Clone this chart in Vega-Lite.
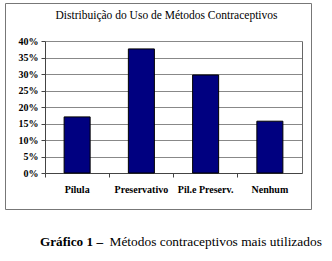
{
  "$schema": "https://vega.github.io/schema/vega-lite/v6.json",
  "autosize": "none",
  "padding": {"left": 5, "top": 3, "right": 21, "bottom": 52},
  "width": 306,
  "height": 206,
  "background": "white",
  "config": {
    "view": {"stroke": "#777777", "strokeWidth": 1},
    "font": "Liberation Serif"
  },
  "data": {
    "values": [
      {"metodo": "Pílula", "pct": 0.17},
      {"metodo": "Preservativo", "pct": 0.376},
      {"metodo": "Pil.e Preserv.", "pct": 0.297},
      {"metodo": "Nenhum", "pct": 0.157}
    ]
  },
  "resolve": {"axis": {"x": "independent", "y": "independent"}},
  "layer": [
    {
      "mark": {"type": "bar", "fill": "#000080", "stroke": "black", "strokeWidth": 1, "width": {"band": 0.405}},
      "encoding": {
        "x": {
          "field": "metodo", "type": "nominal", "sort": null,
          "scale": {"range": [40, 297], "paddingInner": 0, "paddingOuter": 0},
          "axis": {
            "orient": "bottom", "offset": -36, "labelAngle": 0,
            "labelFont": "Liberation Serif", "labelFontSize": 10, "labelFontWeight": "bold", "labelColor": "black",
            "labelBaseline": "top", "labelPadding": 11,
            "ticks": false, "domainColor": "#444444", "grid": false,
            "title": "Gráfico 1 –", "titleFont": "Liberation Serif", "titleFontSize": 13.2, "titleFontWeight": "bold", "titleColor": "black",
            "titleAlign": "left", "titleBaseline": "alphabetic", "titleX": 34.5, "titleY": 72.5, "titleAngle": 0
          }
        },
        "y": {
          "field": "pct", "type": "quantitative",
          "scale": {"domain": [0, 0.4], "range": [170, 38], "nice": false},
          "axis": {
            "orient": "left", "offset": -40, "values": [0, 0.05, 0.1, 0.15, 0.2, 0.25, 0.3, 0.35, 0.4], "format": ".0%",
            "labelFont": "Liberation Serif", "labelFontSize": 10, "labelFontWeight": "bold", "labelColor": "black",
            "labelPadding": 3, "tickSize": 4, "tickColor": "#444444", "domainColor": "#444444",
            "grid": true, "gridColor": "#888888", "gridWidth": 1, "title": null
          }
        }
      }
    },
    {
      "mark": {"type": "bar", "opacity": 0, "width": {"band": 0.405}},
      "encoding": {
        "x": {
          "field": "metodo", "type": "nominal", "sort": null,
          "scale": {"range": [40, 297], "paddingInner": 0, "paddingOuter": 0},
          "axis": {
            "orient": "bottom", "offset": -36, "labels": false, "bandPosition": 0,
            "ticks": true, "tickSize": 4, "tickColor": "#444444", "domain": false, "grid": false,
            "title": "Métodos contraceptivos mais utilizados", "titleFont": "Liberation Serif", "titleFontSize": 13.4, "titleFontWeight": "normal", "titleColor": "black",
            "titleAlign": "left", "titleBaseline": "alphabetic", "titleX": 104, "titleY": 72.5, "titleAngle": 0
          }
        },
        "y": {
          "field": "pct", "type": "quantitative",
          "scale": {"domain": [0, 0.4], "range": [170, 38], "nice": false},
          "axis": {
            "orient": "right", "offset": -9, "labels": false, "ticks": false, "grid": false,
            "domainColor": "#666666", "title": null
          }
        }
      }
    },
    {
      "mark": {"type": "bar", "opacity": 0, "width": {"band": 0.405}},
      "encoding": {
        "x": {
          "field": "metodo", "type": "nominal", "sort": null,
          "scale": {"range": [40, 297], "paddingInner": 0, "paddingOuter": 0},
          "axis": {
            "orient": "top", "offset": 0, "labels": false, "ticks": false, "domain": false, "grid": false,
            "title": "Distribuição do Uso de Métodos Contraceptivos", "titleFont": "Liberation Serif", "titleFontSize": 11.5, "titleFontWeight": "normal", "titleColor": "black",
            "titleAlign": "center", "titleBaseline": "alphabetic", "titleX": 161, "titleY": 15, "titleAngle": 0
          }
        },
        "y": {
          "field": "pct", "type": "quantitative",
          "scale": {"domain": [0, 0.4], "range": [170, 38], "nice": false},
          "axis": null
        }
      }
    }
  ]
}
